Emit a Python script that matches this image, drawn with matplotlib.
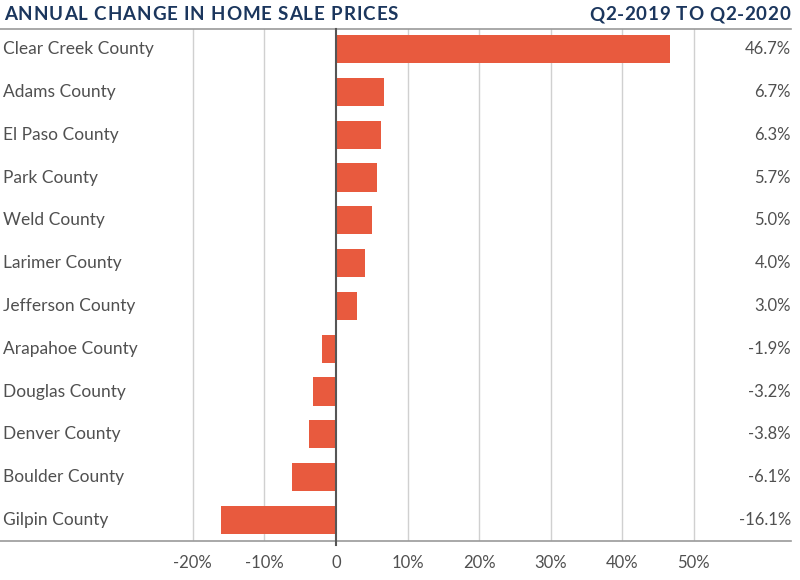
import matplotlib
matplotlib.use("Agg")
from matplotlib import pyplot as plt

counties = [
    "Clear Creek County", "Adams County", "El Paso County", "Park County",
    "Weld County", "Larimer County", "Jefferson County", "Arapahoe County",
    "Douglas County", "Denver County", "Boulder County", "Gilpin County",
]
changes = [46.7, 6.7, 6.3, 5.7, 5.0, 4.0, 3.0, -1.9, -3.2, -3.8, -6.1, -16.1]
tick_values = [-20, -10, 0, 10, 20, 30, 40, 50]
tick_labels = ["-20%", "-10%", "0", "10%", "20%", "30%", "40%", "50%"]
title_left = "ANNUAL CHANGE IN HOME SALE PRICES"
title_right = "Q2-2019 TO Q2-2020"

BAR = "#E85A3E"
NAVY = "#1B365D"
TEXT = "#505050"
W, H = 800, 580

plt.rcParams["font.family"] = ["Lato", "DejaVu Sans"]


def spaced_text(fig, x0, x1, y, s, **kw):
    # lay out characters one by one so the string fills [x0, x1] pixels
    renderer = fig.canvas.get_renderer()
    space = fig.text(0, 0, "A A", **kw)
    aa = fig.text(0, 0, "AA", **kw)
    sw = space.get_window_extent(renderer).width - aa.get_window_extent(renderer).width
    space.remove()
    aa.remove()
    widths = []
    for ch in s:
        if ch == " ":
            widths.append(sw)
            continue
        t = fig.text(0, 0, ch, **kw)
        widths.append(t.get_window_extent(renderer).width)
        t.remove()
    gap = (x1 - x0 - sum(widths)) / (len(s) - 1)
    x = x0
    for ch, w in zip(s, widths):
        if ch != " ":
            fig.text(x / W, 1 - y / H, ch, ha="left", va="center", **kw)
        x += w + gap


fig = plt.figure(figsize=(8, 5.8), dpi=100)
ax = fig.add_axes([0, (H - 541.3) / H, 791 / W, 512.3 / H])

y = list(range(len(counties)))
ax.barh(y, changes, height=0.66, color=BAR, zorder=3)
ax.set_ylim(len(counties) - 0.5, -0.47)
ax.set_xlim(-336 / 7.157, (791 - 336) / 7.157)

ax.set_xticks(tick_values)
ax.set_xticklabels(tick_labels, fontsize=12, color=TEXT)
ax.tick_params(axis="x", length=0, pad=10)
ax.set_yticks([])
for v in tick_values:
    if v == 0:
        ax.axvline(v, ymin=-0.008, color="#555555", linewidth=1.5, zorder=4, clip_on=False)
    else:
        ax.axvline(v, color="#d0d0d0", linewidth=1.0, zorder=1)

for side in ("left", "right"):
    ax.spines[side].set_visible(False)
for side in ("top", "bottom"):
    ax.spines[side].set_color("#9a9a9a")
    ax.spines[side].set_linewidth(1.2)

for i, (name, val) in enumerate(zip(counties, changes)):
    ax.text(3 / 791, i, name, transform=ax.get_yaxis_transform(),
            ha="left", va="center", fontsize=12.5, color=TEXT)
    ax.text(1.0, i, f"{val:.1f}%", transform=ax.get_yaxis_transform(),
            ha="right", va="center", fontsize=12, color=TEXT)

spaced_text(fig, 4, 398, 15, title_left, fontsize=13.5, fontweight="bold", color=NAVY)
spaced_text(fig, 589, 790, 15, title_right, fontsize=13.5, fontweight="bold", color=NAVY)

fig.savefig("out.png", dpi=100)
